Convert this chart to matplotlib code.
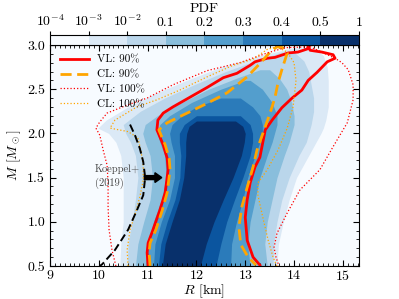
import numpy as np
import matplotlib
matplotlib.use("Agg")
import matplotlib.pyplot as plt
from matplotlib.colors import ListedColormap, BoundaryNorm
import matplotlib.colorbar as mcolorbar
from matplotlib.ticker import MultipleLocator

plt.rcParams['font.family'] = 'serif'
plt.rcParams['font.serif'] = ['cmr10']
plt.rcParams['mathtext.fontset'] = 'cm'
plt.rcParams['axes.formatter.use_mathtext'] = True
plt.rcParams['axes.unicode_minus'] = False

# PDF colour levels
pdf_bounds = [1e-4, 1e-3, 1e-2, 0.1, 0.2, 0.3, 0.4, 0.5, 1.0]
pdf_ticklabels = [r'$10^{-4}$', r'$10^{-3}$', r'$10^{-2}$', '0.1', '0.2', '0.3', '0.4', '0.5', '1']

# density regions (R left / right edges at given M), level 1 = outermost
lvl1_M = [0.5, 0.75, 1.0, 1.25, 1.5, 1.75, 1.9, 2.0, 2.06, 2.15, 2.3, 2.45, 2.6, 2.75, 2.88, 2.97]
lvl1_L = [10.43, 10.45, 10.5, 10.5, 10.5, 10.45, 10.35, 10.2, 9.98, 10.15, 10.6, 11.15, 11.8, 12.5, 13.3, 14.0]
lvl1_R = [13.65, 13.68, 13.78, 13.9, 14.05, 14.3, 14.45, 14.55, 14.6, 14.65, 14.7, 14.7, 14.7, 14.68, 14.6, 14.4]

lvl2_M = [0.5, 0.75, 1.0, 1.25, 1.5, 1.75, 1.9, 2.0, 2.1, 2.25, 2.4, 2.55, 2.7, 2.82, 2.92]
lvl2_L = [10.58, 10.6, 10.68, 10.75, 10.8, 10.75, 10.65, 10.55, 10.5, 10.85, 11.35, 11.95, 12.6, 13.2, 13.75]
lvl2_R = [13.57, 13.58, 13.65, 13.75, 13.9, 14.1, 14.25, 14.3, 14.35, 14.4, 14.4, 14.35, 14.3, 14.2, 14.0]

lvl3_M = [0.5, 0.75, 1.0, 1.25, 1.5, 1.75, 1.9, 2.0, 2.1, 2.2, 2.35, 2.5, 2.62, 2.72]
lvl3_L = [10.75, 10.8, 10.92, 11.05, 11.1, 11.05, 10.95, 10.9, 10.95, 11.2, 11.7, 12.25, 12.8, 13.3]
lvl3_R = [13.45, 13.4, 13.45, 13.55, 13.65, 13.8, 13.9, 13.95, 14.0, 14.0, 13.95, 13.85, 13.7, 13.5]

lvl4_M = [0.5, 0.75, 1.0, 1.25, 1.5, 1.75, 1.9, 2.0, 2.1, 2.2, 2.35, 2.5, 2.6]
lvl4_L = [10.95, 11.0, 11.12, 11.28, 11.38, 11.35, 11.25, 11.2, 11.25, 11.45, 11.9, 12.5, 13.0]
lvl4_R = [13.1, 13.05, 13.1, 13.2, 13.3, 13.45, 13.55, 13.6, 13.65, 13.65, 13.55, 13.35, 13.1]

lvl5_M = [0.5, 0.75, 1.0, 1.25, 1.5, 1.75, 1.9, 2.0, 2.1, 2.2, 2.3, 2.4]
lvl5_L = [11.12, 11.15, 11.28, 11.45, 11.55, 11.55, 11.48, 11.45, 11.5, 11.7, 12.0, 12.5]
lvl5_R = [12.7, 12.72, 12.82, 12.95, 13.05, 13.2, 13.3, 13.35, 13.35, 13.3, 13.15, 12.9]

lvl6_M = [0.5, 0.75, 1.0, 1.25, 1.5, 1.75, 1.9, 2.0, 2.1, 2.2]
lvl6_L = [11.22, 11.27, 11.4, 11.56, 11.66, 11.68, 11.65, 11.65, 11.75, 12.0]
lvl6_R = [12.4, 12.5, 12.62, 12.78, 12.95, 13.1, 13.15, 13.15, 13.1, 12.9]

lvl7_M = [0.5, 0.75, 1.0, 1.25, 1.5, 1.75, 1.9, 2.0, 2.08, 2.14]
lvl7_L = [11.3, 11.36, 11.5, 11.65, 11.74, 11.78, 11.78, 11.8, 11.85, 12.0]
lvl7_R = [12.08, 12.2, 12.36, 12.55, 12.75, 12.92, 12.98, 13.0, 12.95, 12.8]

# credible contours
vl90_R = [11.01, 10.99, 11.01, 11.11, 11.25, 11.36, 11.42, 11.40, 11.32, 11.19, 11.21, 11.32, 11.52, 11.87,
          12.22, 12.55, 12.83, 13.10, 13.20, 13.45, 13.61, 13.88, 14.08, 14.27, 14.29, 14.33, 14.57, 14.80,
          14.84, 14.68, 14.47, 14.29, 14.16, 13.96, 13.75, 13.55, 13.41, 13.30, 13.20, 13.10, 13.04, 13.00,
          13.04, 13.16, 13.30]
vl90_M = [0.50, 0.65, 0.76, 0.91, 1.13, 1.33, 1.59, 1.72, 1.87, 2.04, 2.15, 2.23, 2.30, 2.41,
          2.52, 2.63, 2.68, 2.77, 2.81, 2.85, 2.86, 2.91, 2.92, 2.955, 2.98, 2.94, 2.92, 2.89,
          2.85, 2.81, 2.69, 2.60, 2.49, 2.40, 2.29, 2.15, 2.04, 1.73, 1.62, 1.44, 1.25, 1.05,
          0.79, 0.60, 0.51]

cl90_R = [11.05, 11.03, 11.05, 11.17, 11.30, 11.40, 11.46, 11.44, 11.36, 11.23, 11.40, 11.66, 12.22, 12.63,
          13.04, 13.30, 13.51, 13.65, 13.77, 13.86, 13.75, 13.67, 13.61, 13.55, 13.47, 13.36, 13.24, 13.16,
          13.04, 12.93, 12.87, 12.91, 13.06, 13.22]
cl90_M = [0.50, 0.65, 0.76, 0.91, 1.13, 1.33, 1.59, 1.72, 1.87, 2.04, 2.12, 2.19, 2.34, 2.46,
          2.64, 2.79, 2.92, 2.98, 2.97, 2.91, 2.72, 2.57, 2.41, 2.30, 2.17, 2.00, 1.81, 1.62,
          1.39, 1.17, 0.94, 0.74, 0.60, 0.51]

vl100_R = [10.35, 10.27, 10.21, 10.19, 10.19, 10.17, 10.09, 10.02, 9.94, 10.02, 10.17, 10.58, 10.99, 11.52,
           12.22, 12.89, 13.45, 13.82, 14.33, 14.84, 14.98, 15.11, 15.21, 15.21, 15.09, 14.80, 14.53, 14.12,
           13.86, 13.65, 13.59, 13.63, 13.69]
vl100_M = [0.50, 0.68, 0.91, 1.17, 1.44, 1.64, 1.81, 1.98, 2.06, 2.13, 2.23, 2.32, 2.40, 2.55,
           2.71, 2.80, 2.91, 2.97, 2.98, 2.85, 2.80, 2.72, 2.55, 2.38, 2.12, 1.85, 1.59, 1.36,
           1.10, 0.87, 0.71, 0.60, 0.50]

cl100_R = [10.60, 10.58, 10.64, 10.74, 10.84, 10.91, 10.91, 10.86, 10.80, 10.60, 10.23, 10.33, 10.78, 11.19,
           11.66, 12.22, 12.75, 13.16, 13.45, 13.65, 13.86, 14.00, 14.04, 13.98, 13.86, 13.67, 13.45, 13.26,
           13.26, 13.36, 13.47, 13.57, 13.65]
cl100_M = [0.50, 0.68, 0.91, 1.08, 1.28, 1.47, 1.64, 1.81, 1.95, 2.02, 2.06, 2.15, 2.30, 2.38,
           2.49, 2.64, 2.77, 2.84, 2.95, 2.98, 2.92, 2.80, 2.60, 2.30, 2.06, 1.81, 1.59, 1.44,
           1.30, 1.05, 0.79, 0.60, 0.50]

koeppel_R = [10.64, 10.74, 10.84, 10.91, 10.95, 10.91, 10.78, 10.60, 10.33, 10.07, 10.02]
koeppel_M = [2.10, 1.98, 1.83, 1.68, 1.50, 1.30, 1.13, 0.91, 0.68, 0.52, 0.50]

levels = [(lvl1_M, lvl1_L, lvl1_R), (lvl2_M, lvl2_L, lvl2_R), (lvl3_M, lvl3_L, lvl3_R),
          (lvl4_M, lvl4_L, lvl4_R), (lvl5_M, lvl5_L, lvl5_R), (lvl6_M, lvl6_L, lvl6_R),
          (lvl7_M, lvl7_L, lvl7_R)]

colors = plt.cm.Blues(np.linspace(0, 1, 8))
cmap = ListedColormap(colors)
norm = BoundaryNorm(pdf_bounds, cmap.N)

fig = plt.figure(figsize=(3.99, 2.99), dpi=100)
ax = fig.add_axes([0.1253, 0.1104, 0.7744, 0.7391])
cax = fig.add_axes([0.1253, 0.8495, 0.7744, 0.034])

ax.set_facecolor(colors[0])
for i, (m, l, r) in enumerate(levels):
    ax.fill_betweenx(m, l, r, color=colors[i + 1], lw=0)

ax.plot(vl90_R, vl90_M, color='red', lw=2.0, label='VL: 90%')
ax.plot(cl90_R, cl90_M, color='orange', lw=2.0, ls=(0, (4, 2)), label='CL: 90%')
ax.plot(vl100_R, vl100_M, color='red', lw=0.9, ls=':', label='VL: 100%')
ax.plot(cl100_R, cl100_M, color='orange', lw=0.9, ls=':', label='CL: 100%')
ax.plot(koeppel_R, koeppel_M, color='k', lw=1.4, ls=(0, (4, 2)))

ax.arrow(10.93, 1.5, 0.22, 0, width=0.045, head_width=0.11, head_length=0.14,
         color='k', length_includes_head=False)
ax.text(9.92, 1.51, 'Koeppel+\n(2019)', color='#444444', fontsize=7.5, ha='left', va='center',
        linespacing=1.5)

ax.set_xlim(9, 15.33)
ax.set_ylim(0.5, 3.0)
ax.xaxis.set_major_locator(MultipleLocator(1))
ax.xaxis.set_minor_locator(MultipleLocator(0.1))
ax.yaxis.set_major_locator(MultipleLocator(0.5))
ax.yaxis.set_minor_locator(MultipleLocator(0.1))
ax.yaxis.set_major_formatter(matplotlib.ticker.FormatStrFormatter('%.1f'))
ax.tick_params(which='both', direction='in', top=True, right=True, labelsize=10)
ax.tick_params(which='major', length=4)
ax.tick_params(which='minor', length=2)
ax.tick_params(axis='x', pad=2)
ax.set_xlabel(r'$R$ [km]', fontsize=10, labelpad=0)
ax.set_ylabel(r'$M$ $[M_\odot]$', fontsize=10, labelpad=3)

leg = ax.legend(loc='upper left', frameon=False, fontsize=8, handlelength=2.6,
                handletextpad=0.7, labelspacing=0.45, borderaxespad=0.5)

cb = mcolorbar.ColorbarBase(cax, cmap=cmap, norm=norm, orientation='horizontal',
                            boundaries=pdf_bounds, spacing='uniform', ticks=pdf_bounds)
cax.xaxis.set_ticks_position('top')
cax.xaxis.set_label_position('top')
cax.set_xticklabels(pdf_ticklabels)
cax.tick_params(labelsize=10, length=3, pad=1)
cb.set_label('PDF', fontsize=10, labelpad=1)
cb.outline.set_linewidth(0.8)

fig.savefig('out.png', dpi=100)
